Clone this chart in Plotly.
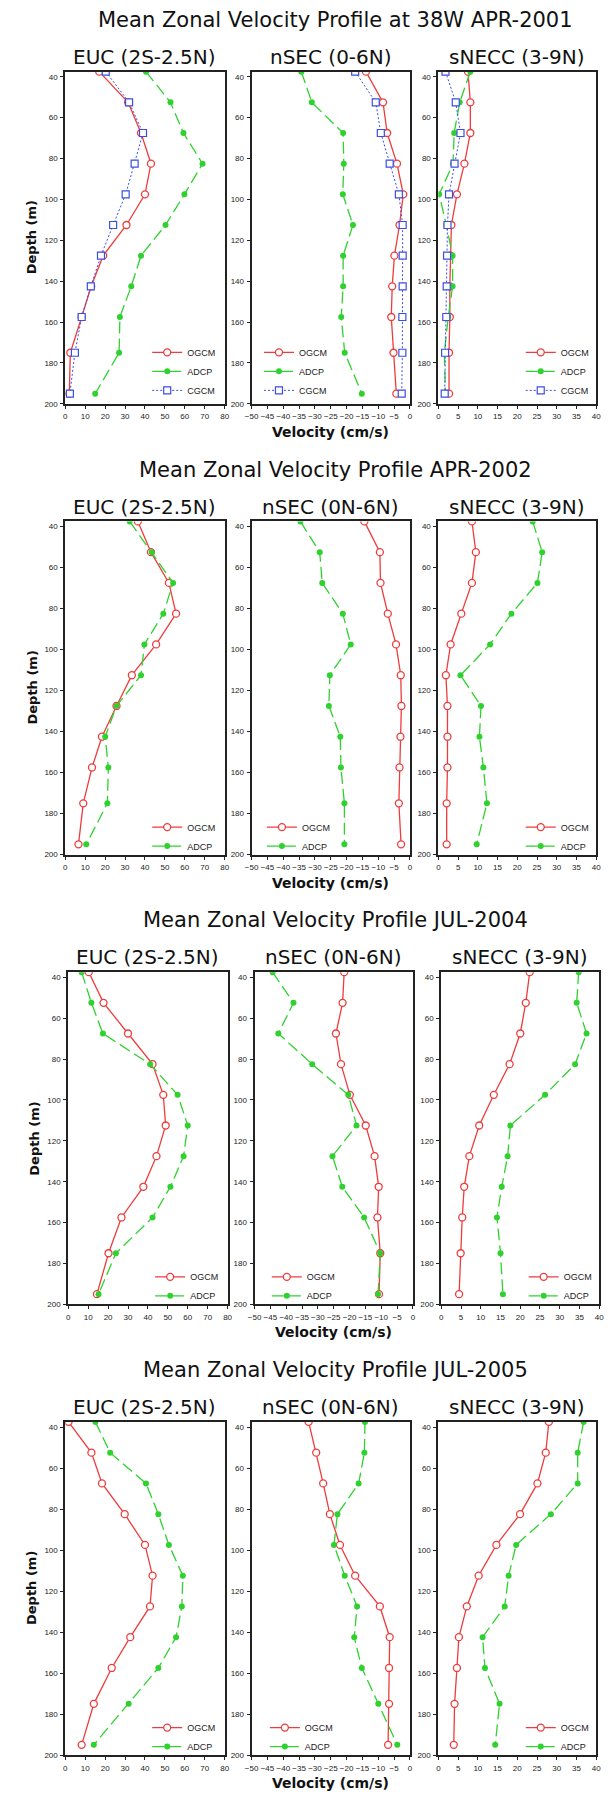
import plotly.graph_objects as go

W, H = 613, 1795

# ---------------- data ----------------
depth = [37.5, 52.5, 67.5, 82.5, 97.5, 112.5, 127.5, 142.5, 157.5, 175, 195]
depth_ticks = [40, 60, 80, 100, 120, 140, 160, 180, 200]

row_titles = [
    "Mean Zonal Velocity Profile at 38W APR-2001",
    "Mean Zonal Velocity Profile APR-2002",
    "Mean Zonal Velocity Profile JUL-2004",
    "Mean Zonal Velocity Profile JUL-2005",
]
panel_titles = [
    ["EUC (2S-2.5N)", "nSEC (0-6N)", "sNECC (3-9N)"],
    ["EUC (2S-2.5N)", "nSEC (0N-6N)", "sNECC (3-9N)"],
    ["EUC (2S-2.5N)", "nSEC (0N-6N)", "sNECC (3-9N)"],
    ["EUC (2S-2.5N)", "nSEC (0N-6N)", "sNECC (3-9N)"],
]
series_names = ["OGCM", "ADCP", "CGCM"]

# APR-2001
euc_ogcm_2001 = [17, 31.5, 38, 43, 40, 30.7, 19, 13, 8.2, 2.5, 2]
euc_adcp_2001 = [40.5, 52.8, 59.3, 68.9, 59.8, 50.3, 38, 33.1, 27.4, 27, 15]
euc_cgcm_2001 = [20.3, 32, 39, 34.8, 30.3, 24, 17.9, 12.8, 8.2, 4.8, 2.3]
nsec_ogcm_2001 = [-13.9, -8.5, -7.2, -4.1, -2.1, -3.3, -4.9, -5.6, -5.9, -5.2, -4.3]
nsec_adcp_2001 = [-34.3, -31, -21.1, -20.9, -21.2, -18, -21.1, -21.1, -21.7, -20.6, -15.2]
nsec_cgcm_2001 = [-17.3, -10.8, -9.2, -6.4, -3.5, -2.3, -2.3, -2.3, -2.4, -2.4, -2.6]
snecc_ogcm_2001 = [7.5, 8.1, 8.1, 6.6, 4.7, 3.3, 3.1, 2.9, 2.9, 2.7, 2.7]
snecc_adcp_2001 = [8.1, 5.4, 4.0, 3.7, 0.2, 2.0, 3.6, 3.6, 2.5, 1.5, 1.8]
snecc_cgcm_2001 = [1.8, 4.4, 5.6, 4.1, 2.7, 2.3, 2.2, 2.1, 2.0, 1.7, 1.6]

# APR-2002
euc_ogcm_2002 = [36.4, 43, 52, 55.6, 45.6, 33.4, 25.7, 18.4, 13.4, 9.0, 6.6]
euc_adcp_2002 = [32.3, 43.4, 54.1, 49.2, 39.7, 38, 25.7, 20, 21.6, 21.1, 10.5]
nsec_ogcm_2002 = [-14.4, -9.5, -9.3, -7.0, -4.4, -2.9, -2.7, -3.0, -3.3, -3.5, -2.8]
nsec_adcp_2002 = [-34.6, -28.5, -27.7, -21.2, -18.7, -25.3, -25.6, -22, -21.8, -20.7, -20.7]
snecc_ogcm_2002 = [8.5, 9.5, 8.5, 5.8, 3.1, 1.9, 2.3, 2.3, 2.3, 2.1, 2.1]
snecc_adcp_2002 = [23.9, 26.3, 25.1, 18.5, 13.1, 5.6, 10.8, 10.4, 11.4, 12.3, 9.7]

# JUL-2004
euc_ogcm_2004 = [10.3, 17.7, 30, 42.3, 47.7, 48.9, 44.3, 37.7, 26.7, 20.2, 14.4]
euc_adcp_2004 = [6.7, 11.6, 17.4, 41.1, 54.9, 60, 57.9, 51.3, 42.3, 23.9, 15.2]
nsec_ogcm_2004 = [-21.7, -22.2, -24.3, -22.7, -19.9, -14.9, -12.1, -10.8, -11.2, -10.3, -10.7]
nsec_adcp_2004 = [-44.3, -37.7, -42.5, -31.8, -20.4, -17.8, -25.4, -22.3, -15.4, -10.3, -11.0]
snecc_ogcm_2004 = [22.4, 21.4, 20, 17.3, 13.3, 9.6, 7.1, 5.8, 5.3, 4.9, 4.5]
snecc_adcp_2004 = [34.8, 34.3, 36.8, 33.9, 26.3, 17.5, 16.8, 15.3, 14.1, 15, 15.6]

# JUL-2005
euc_ogcm_2005 = [1.6, 13.1, 18.4, 29.8, 40, 43.8, 42.5, 32.6, 23.3, 14.3, 8.2]
euc_adcp_2005 = [15.1, 22.5, 40.5, 46.7, 52, 59, 58.5, 55.6, 46.7, 31.8, 14.3]
nsec_ogcm_2005 = [-32, -29.6, -27.4, -25.3, -22.1, -17.3, -9.5, -6.4, -6.6, -6.6, -6.9]
nsec_adcp_2005 = [-14.2, -14.4, -16.2, -22.9, -24, -20.6, -16.7, -17.6, -15.2, -10, -4]
snecc_ogcm_2005 = [28, 27.2, 25.1, 20.7, 14.7, 10.2, 7.2, 5.2, 4.7, 4.1, 3.9]
snecc_adcp_2005 = [36.8, 35.3, 35.3, 28.5, 19.7, 17.8, 16.8, 11.2, 11.8, 15.5, 14.4]

# x-axis ranges per column: (min, max, step)
x_ranges = [(0, 80, 10), (-50, 0, 5), (0, 40, 5)]

panels = [
    [[euc_ogcm_2001, euc_adcp_2001, euc_cgcm_2001],
     [nsec_ogcm_2001, nsec_adcp_2001, nsec_cgcm_2001],
     [snecc_ogcm_2001, snecc_adcp_2001, snecc_cgcm_2001]],
    [[euc_ogcm_2002, euc_adcp_2002],
     [nsec_ogcm_2002, nsec_adcp_2002],
     [snecc_ogcm_2002, snecc_adcp_2002]],
    [[euc_ogcm_2004, euc_adcp_2004],
     [nsec_ogcm_2004, nsec_adcp_2004],
     [snecc_ogcm_2004, snecc_adcp_2004]],
    [[euc_ogcm_2005, euc_adcp_2005],
     [nsec_ogcm_2005, nsec_adcp_2005],
     [snecc_ogcm_2005, snecc_adcp_2005]],
]

# ---------------- styling / layout geometry (pixels) ----------------
RED, GREEN, BLUE = "#ee3b3b", "#2fd12f", "#3a4ee6"
styles = [
    dict(line=dict(color=RED, width=1.3),
         marker=dict(symbol="circle", size=7, color="white", line=dict(color=RED, width=1.3))),
    dict(line=dict(color=GREEN, width=1.3, dash="12px,5px"),
         marker=dict(symbol="circle", size=6, color=GREEN, line=dict(color=GREEN, width=0))),
    dict(line=dict(color=BLUE, width=1.0, dash="2px,2px"),
         marker=dict(symbol="square", size=7, color="white", line=dict(color=BLUE, width=1.2))),
]

col_px = [(59.5, 222.0), (249.5, 411.0), (440.0, 601.0)]
row_dx = [0, 0, 3, 0]
row_y40 = [77, 528, 980, 1431]
row_y200 = [405, 857, 1308, 1760]
legend_text_left = [[185, 299, 566], [185, 302, 566], [188, 307, 569], [185, 305, 566]]
legend_last_off = [13, 8, 8, 8]

def xp(px):
    return px / W

def yp(py):
    return 1 - py / H

TICKFONT = dict(family="Liberation Sans", size=8, color="#222")

fig = go.Figure()
layout = dict(
    width=W, height=H,
    margin=dict(l=0, r=0, t=0, b=0),
    paper_bgcolor="white", plot_bgcolor="white",
    showlegend=True,
)
annotations = []

k = 0
for r in range(4):
    y40, y200 = row_y40[r], row_y200[r]
    top = y40 - (40 - 37.5) / (200 - 40) * (y200 - y40)
    for c in range(3):
        k += 1
        sfx = "" if k == 1 else str(k)
        x0, x1 = col_px[c][0] + row_dx[r], col_px[c][1] + row_dx[r]
        xmin, xmax, xstep = x_ranges[c]
        layout["xaxis" + sfx] = dict(
            domain=[xp(x0), xp(x1)], range=[xmin, xmax], tick0=xmin, dtick=xstep,
            anchor="y" + sfx, showgrid=False, zeroline=False,
            showline=True, mirror=True, linewidth=2, linecolor="#222",
            ticks="outside", ticklen=3, tickwidth=1, tickcolor="#222",
            tickfont=TICKFONT, tickangle=0, ticklabelstandoff=1,
        )
        layout["yaxis" + sfx] = dict(
            domain=[yp(y200), yp(top)], range=[200, 37.5],
            tickmode="array", tickvals=depth_ticks,
            anchor="x" + sfx, showgrid=False, zeroline=False,
            showline=True, mirror=True, linewidth=2, linecolor="#222",
            ticks="outside", ticklen=3, tickwidth=1, tickcolor="#222",
            tickfont=TICKFONT, ticklabelstandoff=1,
        )
        lname = "legend" + sfx
        for s, vals in enumerate(panels[r][c]):
            fig.add_trace(go.Scatter(
                x=vals, y=depth, mode="lines+markers", name=series_names[s],
                xaxis="x" + sfx, yaxis="y" + sfx, legend=lname,
                cliponaxis=True, hoverinfo="x+y+name", **styles[s],
            ))
        lx = legend_text_left[r][c] - 42
        lb = y200 - legend_last_off[r] + 14
        layout[lname] = dict(
            x=xp(lx), y=yp(lb), xanchor="left", yanchor="bottom",
            bgcolor="rgba(0,0,0,0)", borderwidth=0,
            font=dict(family="Liberation Sans", size=9, color="#222"),
            tracegroupgap=0, itemwidth=30, traceorder="normal",
        )
        # panel title
        annotations.append(dict(
            x=xp((x0 + x1) / 2), y=yp(y40 - 20), xref="paper", yref="paper",
            text=panel_titles[r][c], showarrow=False, xanchor="center", yanchor="middle",
            font=dict(family="DejaVu Sans", size=20, color="#111"),
        ))
    # row title
    annotations.append(dict(
        x=xp(335), y=yp(y40 - 57), xref="paper", yref="paper",
        text=row_titles[r], showarrow=False, xanchor="center", yanchor="middle",
        font=dict(family="DejaVu Sans", size=21, color="#111"),
    ))
    # y-axis title
    annotations.append(dict(
        x=xp(25 + row_dx[r]), y=yp((top + y200) / 2), xref="paper", yref="paper",
        text="Depth (m)", showarrow=False, textangle=-90,
        xanchor="center", yanchor="middle",
        font=dict(family="DejaVu Sans", size=13, color="#111", weight=700),
    ))
    # x-axis title
    annotations.append(dict(
        x=xp((col_px[1][0] + col_px[1][1]) / 2 + row_dx[r]), y=yp(y200 + 28),
        xref="paper", yref="paper",
        text="Velocity (cm/s)", showarrow=False, xanchor="center", yanchor="middle",
        font=dict(family="DejaVu Sans", size=14, color="#111", weight=700),
    ))

layout["annotations"] = annotations
fig.update_layout(**layout)
fig.write_html(
    "out.html",
    config={"displayModeBar": False},
    post_script="document.body.style.margin='0px';document.body.style.overflow='hidden';",
)
